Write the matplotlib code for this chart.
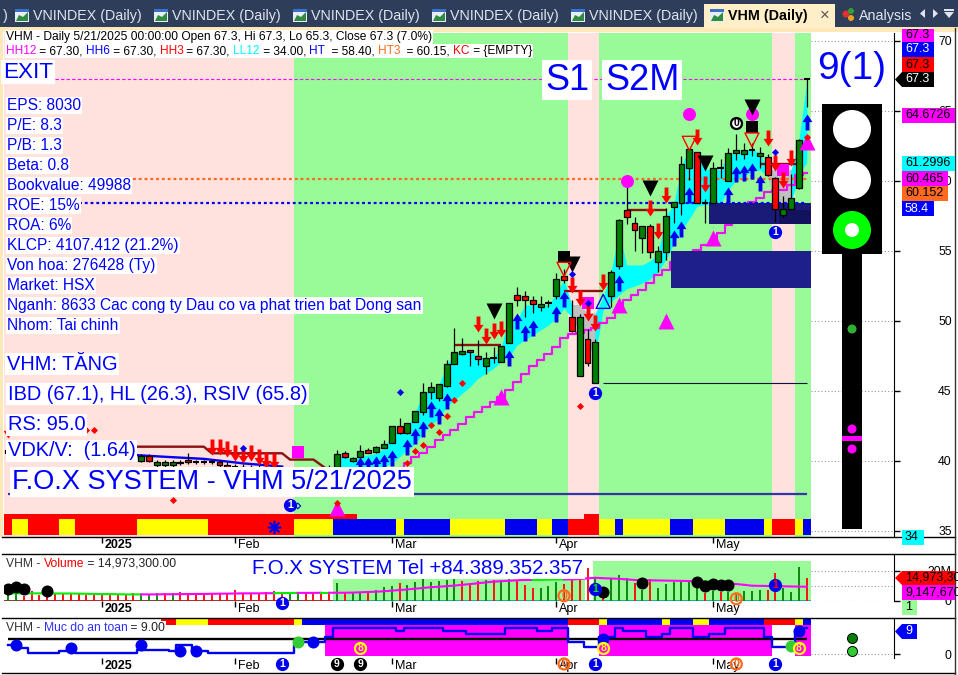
import numpy as np
import matplotlib
matplotlib.use('Agg')
import matplotlib.pyplot as plt
from matplotlib.path import Path
from matplotlib.patches import Rectangle, Polygon, Circle
from matplotlib.transforms import ScaledTranslation

plt.rcParams['font.family'] = ['Liberation Sans', 'DejaVu Sans']

# ---- OHLC per session (0 = first bar on the chart) ----
opens = [40.55, 40.9, 40.8, 40.7, 40.9, 40.7, 40.6, 40.7, 40.5, 40.6, 40.5, 40.4, 40.5, 40.4, 40.5, 40.3, 40.4,
         40.0, 40.36, 39.7, 39.7, 39.7, 39.9, 40.1, 39.95, 39.95, 39.95, 39.95, 39.7, 39.6, 39.6, 39.5, 39.5, 39.4,
         39.4, 39.3, 39.3, 39.2, 39.2, 39.3, 39.2, 39.3,
         39.55, 40.6, 40.0, 40.25, 40.8, 40.65, 40.95, 41.25, 42.5, 42.0, 42.8, 43.5, 44.95, 44.5, 45.35, 46.95,
         47.65, 47.9, 47.5, 46.75, 47.35, 47.05, 48.4, 51.85, 51.75, 51.5, 51.0, 51.25, 51.75, 53.2, 50.25, 46.05,
         48.7, 45.55, np.nan, 51.75, 53.95, 57.95, 57.0, 55.95, 56.8, 54.2, 54.95, 58.15, 58.45, 60.95, 62.05, 58.45,
         58.45, 60.95, 60.0, 62.0, 61.95, 62.2, 61.75, 61.7, 60.2, 57.55, 58.0, 59.5, 67.3]
highs = [41.0, 41.1, 41.0, 41.1, 41.1, 40.9, 40.9, 40.9, 40.8, 40.8, 40.7, 40.7, 40.7, 40.7, 40.7, 40.6, 40.6,
         40.5, 40.5, 40.1, 40.1, 40.1, 40.1, 40.55, 40.1, 40.1, 40.1, 40.1, 39.9, 39.8, 39.8, 39.7, 39.7, 39.6,
         39.6, 39.5, 39.5, 39.4, 39.5, 39.5, 39.5, 39.7,
         40.8, 40.7, 40.3, 41.15, 40.9, 41.1, 41.5, 42.5, 43.05, 42.7, 43.55, 45.6, 45.65, 45.5, 47.2, 49.5,
         48.75, 47.95, 48.65, 47.8, 48.15, 48.2, 51.3, 52.45, 52.15, 51.8, 51.8, 51.5, 53.4, 53.7, 51.5, 50.5,
         49.45, 48.7, np.nan, 53.65, 57.3, 60.45, 57.4, 56.8, 56.9, 55.35, 58.05, 58.5, 61.75, 62.3, 62.1, 58.7,
         61.35, 61.6, 62.35, 63.35, 62.7, 62.7, 62.45, 61.9, 60.25, 58.9, 60.5, 63.0, 67.3]
lows = [40.4, 40.5, 40.5, 40.5, 40.5, 40.4, 40.4, 40.3, 40.3, 40.3, 40.2, 40.2, 40.2, 40.2, 40.1, 40.1, 40.0,
        39.9, 39.9, 39.6, 39.6, 39.6, 39.7, 39.8, 39.8, 39.8, 39.8, 39.6, 39.5, 39.4, 39.4, 39.3, 39.3, 39.2,
        39.2, 39.1, 39.1, 39.0, 39.0, 39.0, 39.0, 39.1,
        39.4, 40.2, 39.9, 40.2, 40.55, 40.6, 40.9, 41.25, 41.9, 41.95, 42.8, 43.3, 44.4, 44.25, 45.3, 46.9,
        47.6, 46.8, 46.85, 46.2, 47.0, 47.05, 48.4, 51.05, 50.25, 50.55, 50.7, 51.0, 51.55, 52.7, 49.2, 46.05,
        46.8, 45.55, np.nan, 51.0, 53.7, 56.9, 55.0, 54.85, 54.5, 53.5, 54.35, 57.0, 57.55, 60.05, 58.4, 57.0,
        58.4, 60.2, 60.0, 61.5, 61.55, 61.8, 60.9, 60.35, 57.1, 57.45, 58.0, 59.4, 65.3]
closes = [40.8, 40.7, 40.7, 40.9, 40.7, 40.6, 40.7, 40.5, 40.6, 40.5, 40.4, 40.5, 40.4, 40.5, 40.3, 40.4, 40.2,
          40.36, 40.0, 39.95, 39.95, 39.9, 39.85, 39.95, 39.95, 39.95, 39.95, 39.7, 39.6, 39.6, 39.5, 39.5, 39.4,
          39.4, 39.3, 39.3, 39.2, 39.2, 39.3, 39.2, 39.3, 39.5,
          40.5, 40.25, 40.2, 40.7, 40.6, 41.0, 41.2, 42.5, 42.0, 42.7, 43.55, 44.9, 45.25, 45.5, 46.9, 47.75,
          47.85, 47.75, 47.25, 47.35, 47.35, 48.2, 51.25, 51.5, 51.5, 51.2, 51.2, 51.25, 53.0, 52.95, 49.25, 50.25,
          47.0, 48.5, np.nan, 53.5, 57.2, 57.45, 56.5, 56.75, 54.95, 55.0, 57.5, 58.5, 61.2, 62.3, 58.45, 58.45,
          60.9, 60.95, 62.0, 62.2, 62.2, 62.2, 62.0, 60.4, 58.0, 58.0, 58.75, 62.9, 67.3]

# cyan/grey channel, starts at session 42
band_start = 42
band_up = [40.3, 40.3, 40.07, 40.3, 40.43, 40.55, 40.9, 41.98, 42.1, 42.45, 43.52, 44.83, 45.07, 45.43, 46.86, 47.69,
           47.81, 47.81, 47.52, 47.33, 47.33, 48.17, 50.31, 50.07, 51.14, 51.14, 51.14, 51.14, 51.98, 52.93, 51.14,
           51.14, 50.55, 50.55, 51.7, 53.52, 56.3, 54.0, 54.0, 54.0, 54.3, 54.8, 57.5, 58.3, 61.1, 62.3, 62.0, 60.8,
           60.9, 60.8, 62.0, 61.9, 62.2, 62.3, 62.0, 60.8, 60.8, 60.8, 60.8, 62.9, 67.2]
band_lo = [39.36, 39.36, 39.36, 39.36, 39.36, 39.48, 39.6, 39.83, 40.3, 40.8, 41.26, 41.98, 42.57, 43.05, 43.88, 44.36,
           44.83, 45.31, 45.9, 46.26, 46.62, 47.1, 47.45, 48.29, 48.64, 49.0, 49.36, 49.71, 50.19, 50.9, 50.26,
           49.36, 48.29, 47.57, 50.8, 51.38, 51.86, 52.3, 52.5, 52.7, 53.0, 53.5, 54.4, 55.5, 56.5, 57.3, 58.2, 58.3,
           58.4, 58.4, 59.4, 60.07, 60.4, 60.67, 60.8, 60.3, 58.6, 58.4, 58.4, 60.5, 61.3]
grey_sessions = [72, 73, 74, 75, 97, 98, 99, 100]

# magenta stair, starts at session 50
stair_start = 50
stair = [39.48, 39.83, 40.31, 40.6, 41.02, 41.5, 41.86, 42.21, 42.64, 43.12, 43.52, 43.88, 44.24, 44.6, 45.07, 45.67,
         46.21, 46.79, 47.21, 47.64, 48.17, 48.76, 49.07, 49.17, 49.36, 49.48, 49.83, 50.19, 50.79, 51.5, 51.86, 52.2,
         52.7, 53.3, 53.64, 54.2, 54.5, 54.7, 55.07, 55.43, 55.64, 56.3, 56.86, 57.36, 57.79, 58.5, 58.79, 59.2,
         59.36, 59.36, 59.7, 60.43, 60.57]

brown_x = [16, 25, 26, 35, 36, 39, 40, 41]
brown_y = [41.02, 41.02, 40.55, 40.55, 40.1, 40.1, 39.7, 39.3]
blue_x = [16, 20, 25, 30, 35]
blue_y = [40.43, 40.3, 40.15, 39.83, 39.6]

res_start = [57, 71, 79, 96]
res_end = [63, 76, 84, 101]
res_level = [48.29, 52.17, 57.93, 61.2]

# regime runs in sessions
regime_colors = ['#ffe1dd', '#98fb98', '#ffe1dd', '#98fb98', '#ffe1dd', '#98fb98']
regime_runs = [37, 35, 4, 22, 3, 2]
strip_colors = ['r', 'y', 'r', 'y', 'r', 'y', 'r', 'y', 'b', 'y', 'b', 'y', 'b', 'y', 'b', 'r', 'y', 'b', 'y', 'b',
                'y', 'b', 'y', 'r', 'y', 'b']
strip_runs = [1, 2, 4, 2, 8, 9, 11, 5, 8, 1, 6, 7, 4, 2, 2, 4, 2, 1, 6, 3, 4, 5, 1, 3, 1, 1]
safety_strip_colors = ['r', 'y', 'r', 'y', 'b', 'r', 'y', 'b', 'y', 'b', 'y', 'b', 'r', 'y', 'b']
safety_strip_runs = [2, 4, 11, 1, 34, 4, 1, 7, 1, 3, 2, 7, 4, 1, 1]
safety_strip_start = 20

# marks on the price pane: session, price
up_arrow_x = [45, 46, 47, 48, 49, 51, 52, 53, 54, 55, 56, 64, 65, 66, 67, 70, 71, 78, 85, 86, 87, 92, 93, 94, 95, 96, 102]
up_arrow_y = [39.7, 39.7, 39.8, 39.95, 40.2, 40.98, 41.8, 42.26, 43.7, 43.2, 44.3, 47.33, 50.0, 49.17, 49.5, 50.48,
              51.55, 52.7, 55.95, 56.55, 59.0, 59.0, 60.48, 60.55, 60.71, 59.88, 64.24]
down_arrow_x = [0, 26, 27, 28, 29, 30, 31, 32, 33, 34, 60, 61, 62, 63, 72, 73, 74, 75, 76, 82, 83, 84, 88, 89, 97, 98, 99, 100]
down_arrow_y = [42.2, 41.0, 41.0, 40.83, 40.6, 40.43, 40.55, 40.26, 40.1, 39.98, 49.76, 48.93, 49.29, 49.43, 52.57, 51.62,
                50.55, 49.83, 52.8, 58.05, 56.45, 59.0, 63.17, 59.79, 63.05, 61.31, 60.07, 61.67]
black_tri_x = [62, 72, 82, 89, 95]
black_tri_y = [50.71, 54.1, 59.48, 61.31, 65.3]
black_sq_x = [71, 95]
black_sq_y = [54.6, 63.88]
red_tri_x = [71, 87, 95]
red_tri_y = [53.69, 62.69, 62.93]
mag_dot_x = [79, 87, 95]
mag_dot_y = [60.0, 64.79, 64.76]
mag_tri_x = [63, 78, 90, 102, 84, 42]
mag_tri_y = [44.6, 51.14, 55.9, 62.8, 50.0, 36.64]
mag_sq_x = [37, 74, 99]
mag_sq_y = [40.64, 51.26, 60.8]
red_dia_x = [51, 52, 53, 54, 55, 56, 57, 58, 73, 21, 42, 102, 10, 11]
red_dia_y = [39.88, 40.74, 41.14, 42.57, 42.1, 43.21, 44.36, 45.6, 43.95, 37.2, 37.0, 63.17, 42.2, 42.2]
blue_dia_x = [50, 72, 74, 98, 30]
blue_dia_y = [44.95, 53.36, 51.3, 62.1, 40.95]
one_x = [75, 98, 36]
one_y = [44.83, 56.38, 36.85]

# volume in millions
volume = [3.8, 4.9, 3.3, 6.4, 3.8, 2.7, 4.2, 4.4, 4.4, 4.2, 3.8, 4.2, 3.8, 4.2, 3.8, 3.8, 4.9, 4.2, 4.2, 4.9, 4.9, 4.9,
          5.8, 4.9, 4.4, 4.9, 4.9, 4.4, 4.4, 7.1, 4.9, 4.9, 4.9, 6.0, 6.4, 4.9, 4.9, 5.3, 4.9, 4.9, 4.4, 4.4,
          11.5, 5.0, 5.5, 6.0, 5.0, 7.0, 9.3, 9.8, 12.0, 10.4, 12.7, 14.2, 12.7, 13.3, 13.8, 14.4, 13.3, 11.0, 13.3,
          13.8, 13.8, 13.8, 14.2, 13.8, 10.4, 8.7, 8.2, 9.8, 12.7, 10.9, 14.2, 14.2, 21.6, 15.6, 1.6, 14.9, 17.1, 14.9,
          11.6, 7.1, 14.2, 8.2, 11.1, 12.7, 13.8, 12.7, 8.2, 5.3, 6.4, 6.0, 6.0, 4.9, 6.7, 6.4, 7.1, 7.1, 18.2, 8.2,
          6.0, 22.7, 15.0]
vol_dir = ('ggrrrrrrrr' 'rrrrrrrggg' 'rgrrrrrrrr' 'rrrrrrggrr' 'rrgrggrggg' 'rgggggggrr' 'rgrggrrrgg' 'grrrrgrggg'
           'rgrggggggr' 'grgggggrrg' 'ggr')
vol_ma = [4.9, 4.9, 4.9, 4.9, 4.9, 4.9, 4.8, 4.8, 4.8, 4.7, 4.6, 4.5, 4.4, 4.4, 4.3, 4.2, 4.2, 4.2, 4.2, 4.2, 4.3, 4.3,
          4.4, 4.4, 4.5, 4.5, 4.6, 4.7, 4.7, 4.8, 4.9, 4.9, 4.9, 5.0, 5.0, 5.1, 5.1, 5.2, 5.2, 5.2, 5.3, 5.3,
          5.3, 5.3, 5.4, 5.6, 5.8, 6.0, 6.3, 6.7, 7.1, 7.5, 8.0, 8.5, 9.0, 9.3, 9.7, 10.1, 10.6, 11.1, 11.6,
          12.2, 12.7, 13.0, 13.3, 13.6, 13.8, 13.8, 13.9, 14.0, 14.1, 14.2, 14.2, 14.5, 14.9, 15.3, 15.0, 14.8, 14.6,
          14.2, 13.8, 13.7, 13.6, 13.5, 13.4, 13.3, 13.2, 13.1, 13.0, 12.9, 12.7, 12.2, 11.6, 11.1, 10.6, 10.0, 9.9,
          9.8, 9.7, 9.6, 9.5, 9.4, 9.3]
ma_colors = ['#00ee00', '#ff00ff', '#00ee00', '#ff00ff', '#00ee00', '#ff00ff', '#00ee00', '#ff00ff', '#00ee00', '#ff00ff']
ma_runs = [17, 17, 3, 3, 1, 26, 4, 18, 2, 12]
black_vol_x = [0, 1, 2, 5, 76, 81, 88, 89, 90, 91, 92]
black_vol_y = [7.5, 8.9, 7.5, 6.7, 5.6, 11.6, 12.7, 9.8, 11.1, 10.2, 10.2]

# safety index
safety = [3.65, 3.65, 2.35, 0.39, 0.39, 0.39, 0.39, 1.43, 1.43, 0.39, 0.39, 0.39, 0.39, 0.39, 0.39, 0.39, 0.39, 1.7,
          1.7, 1.7, 1.7, 1.43, 3.78, 3.78, 1.43, 1.43, 0.39, 0.39, 0.39, 0.39, 0.39, 0.39, 0.39, 0.39, 0.39, 0.39, 0.39,
          3.65, 4.7, 4.7, 4.7, 6.65, 10.4, 10.4, 10.4, 10.4, 10.4, 10.4, 10.4, 10.4, 9.26, 10.1, 10.4, 10.4, 10.4, 10.4,
          9.26, 9.26, 9.26, 7.95, 7.95, 7.95, 7.95, 7.95, 10.4, 10.4, 10.4, 10.4, 9.26, 9.26, 10.4, 10.4, 4.95, 4.7,
          2.74, 2.74, 6.65, 6.65, 10.4, 9.26, 9.26, 9.26, 6.65, 6.65, 7.95, 10.4, 10.4, 10.4, 6.65, 6.65, 7.95, 7.95,
          10.4, 10.4, 10.4, 10.4, 10.4, 6.65, 2.74, 2.74, 2.74, 9.13, 10.4]
safety_level = 6.13
pink_runs = [(41, 72), (76, 98), (101, 103)]
safety_blue_x = [1, 8, 17, 22, 24, 39, 76, 101]
safety_blue_y = [3.65, 2.35, 3.65, 1.43, 1.43, 4.7, 6.0, 9.13]
safety_green_x = [37, 100]
safety_green_y = [4.7, 3.4]

month_pos = [12, 29, 49, 70, 90]
month_labels = ['2025', 'Feb', 'Mar', 'Apr', 'May']
price_ticks = [35, 40, 45, 50, 55, 60, 65, 70]

# ---- layout ----
W, H = 958, 675
L, R = 4, 894
BAR = 7.83
X0 = 8.1
fig = plt.figure(figsize=(W / 100, H / 100), dpi=100, facecolor='white')
label_shift = ScaledTranslation(0.03, 0, fig.dpi_scale_trans)


def pane(top, bottom):
    ax = fig.add_axes([L / W, 1 - bottom / H, (R - L) / W, (bottom - top) / H])
    ax.set_xlim((L - X0) / BAR, (R - X0) / BAR)
    for s in ['top', 'left', 'bottom']:
        ax.spines[s].set_visible(False)
    ax.yaxis.tick_right()
    ax.set_xticks(month_pos)
    ax.set_xticklabels(month_labels, ha='left', fontsize=9)
    ax.get_xticklabels()[0].set_fontweight('bold')
    ax.tick_params(axis='x', length=4, width=1, pad=-2.5)
    for lab in ax.get_xticklabels():
        lab.set_transform(lab.get_transform() + label_shift)
    return ax


def runs(ax, colors, lengths, start, lo, hi):
    cmap = {'r': '#ff0000', 'y': '#ffff00', 'b': '#0000ee'}
    left = start - 0.5
    for c, n in zip(colors, lengths):
        ax.bar(left, hi - lo, width=n, bottom=lo, align='edge', color=cmap.get(c, c), linewidth=0, zorder=2)
        left += n


arrow_up = Path([(0, 1), (0.62, 0.05), (0.24, 0.05), (0.24, -1), (-0.24, -1), (-0.24, 0.05), (-0.62, 0.05), (0, 1)])
arrow_dn = Path([(0, -1), (0.62, -0.05), (0.24, -0.05), (0.24, 1), (-0.24, 1), (-0.24, -0.05), (-0.62, -0.05), (0, -1)])
px = lambda n: (n * 0.72) ** 2


def badge(ax, x, y, digit, face, edge, color):
    ax.scatter([x], [y], s=px(11), c=face, edgecolors=edge, linewidths=1.6, zorder=9, clip_on=False)
    ax.text(x, y, digit, color=color, fontsize=7.5, fontweight='bold', ha='center', va='center', zorder=10, clip_on=False)


# ---- price pane ----
ax = pane(33, 537)
ax.set_ylim(34.57, 70.57)
left = -0.5
for c, n in zip(regime_colors, regime_runs):
    ax.axvspan(left, left + n, color=c, lw=0, zorder=0)
    left += n

xs = np.arange(len(closes))
bx = np.arange(band_start, band_start + len(band_up))
ax.fill_between(bx, band_lo, band_up, color='#00ffff', lw=0, zorder=1)
grey = np.isin(bx, grey_sessions)
ax.fill_between(bx, band_lo, band_up, where=grey, color='#c0c0c0', lw=0, zorder=1.1)

runs(ax, strip_colors, strip_runs, 0, 34.71, 35.86)
runs(ax, ['r'], [45], 0, 35.86, 36.21)
runs(ax, ['r'], [2], 74, 35.86, 36.21)

ax.add_patch(Rectangle((89.5, 56.93), 13, 1.47, color='#1a1a78', lw=0, zorder=2))
ax.add_patch(Rectangle((98.5, 56.93), 4, 1.0, color='#12125f', lw=0, zorder=2.1))
ax.add_patch(Rectangle((84.6, 52.36), 17.9, 2.64, color='#1f1f8c', lw=0, zorder=2))

last = xs[-1]
ax.hlines(67.3, 6, last, colors='#ff00ff', linestyles=(0, (3, 2)), lw=0.8, zorder=2)
ax.hlines(60.15, 16, last, colors='#ff6a20', linestyles=(0, (1.3, 1.3)), lw=1.6, zorder=2)
ax.hlines(58.4, 9, last, colors='#0000ee', linestyles=(0, (1.3, 1.3)), lw=1.6, zorder=2)
ax.hlines(45.57, 76, last, colors='#101040', lw=0.8, zorder=2)
ax.hlines(37.64, 0, last, colors='#3535a8', lw=1.6, zorder=2)

ax.step(np.arange(stair_start, stair_start + len(stair)), stair, where='mid', color='#ee10ee', lw=1.6, zorder=1.5)
ax.plot(brown_x, brown_y, color='#8b1010', lw=1.7, zorder=2.5)
ax.plot(blue_x, blue_y, color='#0000ee', lw=1.7, zorder=2.5)
ax.hlines(res_level, res_start, res_end, colors='#8b1010', lw=1.7, zorder=2.5)

# candles
for i in xs:
    o, h, l, c = opens[i], highs[i], lows[i], closes[i]
    if np.isnan(o):
        continue
    ax.vlines(i, l, h, colors='black', lw=0.9, zorder=3)
    if o == c:
        ax.hlines(o, i - 0.4, i + 0.4, colors='black', lw=1.5, zorder=3.1)
    else:
        ax.bar(i, abs(c - o), width=0.76, bottom=min(o, c), color='#008000' if c > o else '#ff0000',
               edgecolor='black', lw=0.9, zorder=3.1)

ax.scatter(mag_dot_x, mag_dot_y, s=px(13), c='#ff00ff', lw=0, zorder=4)
ax.scatter(mag_tri_x, mag_tri_y, s=px(16), c='#ff00ff', marker='^', lw=0, zorder=4)
ax.scatter(mag_sq_x, mag_sq_y, s=px(12), c='#ff00ff', marker='s', lw=0, zorder=4)
ax.scatter(up_arrow_x, up_arrow_y, s=px(16), c='#0000ee', marker=arrow_up, lw=0, zorder=5)
ax.scatter(down_arrow_x, down_arrow_y, s=px(16), c='#ff0000', marker=arrow_dn, lw=0, zorder=5)
ax.scatter(black_tri_x, black_tri_y, s=px(16), c='black', marker='v', lw=0, zorder=5)
ax.scatter(black_sq_x, black_sq_y, s=px(12), c='black', marker='s', lw=0, zorder=5)
ax.scatter(red_tri_x, red_tri_y, s=px(14), facecolors='none', edgecolors='#ff0000', marker='v', lw=1, zorder=5)
ax.scatter(red_dia_x, red_dia_y, s=px(5), c='#ff0000', marker='D', lw=0, zorder=5)
ax.scatter(blue_dia_x, blue_dia_y, s=px(5), c='#0000ee', marker='D', lw=0, zorder=5)
ax.scatter([76], [51.4], s=px(14), facecolors='none', edgecolors='#0000ee', marker='^', lw=1, zorder=5)
ax.scatter([37], [36.79], s=px(4), facecolors='none', edgecolors='#0000ee', marker='D', lw=0.8, zorder=5)
ax.scatter([34], [35.29], s=px(12), c='#0000ee', marker=(8, 2, 0), lw=1.2, zorder=5)
for x, y in zip(one_x, one_y):
    badge(ax, x, y, '1', '#0000ee', '#0000ee', 'white')
badge(ax, 93, 64.17, '0', 'white', 'black', 'black')

ax.hlines(price_ticks, 102.5, (R - X0) / BAR, colors='#999999', linestyles=(0, (1, 2)), lw=0.8, zorder=1)
ax.set_yticks(price_ticks)
ax.set_yticklabels([str(p) for p in price_ticks], fontsize=8.8, ha='right')
ax.tick_params(axis='y', length=4, pad=37.5, width=1, direction='out')

# ---- volume pane ----
av = pane(554, 601)
av.set_ylim(-0.2, 31.13)
av.axvspan(41.5, 73.7, ymax=(0.2 + 14.47) / 31.33, color='#98fb98', lw=0, zorder=0)
av.axvspan(74.7, 102.5, ymax=(0.2 + 26.47) / 31.33, color='#98fb98', lw=0, zorder=0)
av.hlines(0, -0.5, 41.5, colors='#8b1010', lw=1.2, zorder=2)
av.hlines(0, 41.5, 102.5, colors='#00a0a0', lw=1.2, zorder=2)
for i, v in enumerate(volume):
    av.vlines(i, 0, v, colors='#008000' if vol_dir[i] == 'g' else '#ff0000', lw=1.3, zorder=3)
start = 0
for c, n in zip(ma_colors, ma_runs):
    end = min(start + n, len(vol_ma) - 1)
    av.plot(np.arange(start, end + 1), vol_ma[start:end + 1], color=c, lw=1.5, zorder=4)
    start = end
av.scatter(black_vol_x, black_vol_y, s=px(12), c='black', lw=0, zorder=5)
badge(av, 35, -1.3, '1', '#0000ee', '#0000ee', 'white')
badge(av, 75, 7.8, '1', '#0000ee', '#0000ee', '#00ee00')
badge(av, 98, 10.4, '1', '#0000ee', '#0000ee', '#ff0000')
badge(av, 71, 3.3, '0', 'none', '#ff6a20', '#ff6a20')
badge(av, 93, 1.3, '0', 'none', '#ff6a20', '#ff6a20')
av.hlines([0, 10, 20], 102.5, (R - X0) / BAR, colors='#999999', linestyles=(0, (1, 2)), lw=0.8)
av.set_yticks([0, 20])
av.set_yticklabels(['0', '20M'], fontsize=8.8, ha='right')
av.tick_params(axis='y', length=4, pad=37.5, width=1)

# ---- safety pane ----
ap = pane(618, 658)
ap.set_ylim(-1.45, 14.2)
for a, b in pink_runs:
    ap.bar(a - 0.5, 12.15, width=b - a, bottom=-0.65, align='edge', color='#ff00ff', lw=0, zorder=0)
runs(ap, safety_strip_colors, safety_strip_runs, safety_strip_start, 11.5, 14.2)
ap.hlines(safety_level, 0, 102, colors='black', lw=1.7, zorder=2)
ap.step(np.arange(len(safety)), safety, where='mid', color='#0000ee', lw=1.7, zorder=3)
ap.scatter(safety_blue_x, safety_blue_y, s=px(12), c='#0000ee', lw=0, zorder=5)
ap.scatter(safety_green_x, safety_green_y, s=px(12), c='#32cd32', lw=0, zorder=5)
ap.scatter([107.8], [6.26], s=px(10), c='#008000', edgecolors='black', lw=0.7, zorder=5)
ap.scatter([107.8], [1.43], s=px(10), c='#32cd32', edgecolors='black', lw=0.7, zorder=5)
for x in [45, 76, 101]:
    y = 2.55
    ap.scatter([x], [y], s=px(11), c='#ff00ff', edgecolors='#ffff00', lw=1.6, zorder=9)
    ap.text(x, y, '8', color='#ffff00', fontsize=7.5, fontweight='bold', ha='center', va='center', zorder=10)
for x in [42, 45]:
    badge(ap, x, -3.78, '9', 'black', 'black', 'white')
for x in [35, 75, 98]:
    badge(ap, x, -3.78, '1', '#0000ee', '#0000ee', 'white')
for x in [71, 93]:
    badge(ap, x, -3.78, '0', 'none', '#ff6a20', '#ff6a20')
ap.hlines([0], 102.5, (R - X0) / BAR, colors='#999999', linestyles=(0, (1, 2)), lw=0.8)
ap.set_yticks([0])
ap.set_yticklabels(['0'], fontsize=8.8, ha='right')
ap.tick_params(axis='y', length=4, pad=37.5, width=1)

# ---- overlay in pixels: window chrome, text boxes, tags ----
ov = fig.add_axes([0, 0, 1, 1], facecolor='none')
ov.set_xlim(0, W)
ov.set_ylim(H, 0)
ov.axis('off')
ov.set_zorder(20)

ov.add_patch(Rectangle((0, 0), W, 28, color='#2e3d5a', lw=0))
ov.add_patch(Rectangle((0, 27), W, 5, color='#ffe8b8', lw=0))
ov.add_patch(Rectangle((0, 27), 3, 510, color='#ffe8b8', lw=0))
ov.add_patch(Rectangle((704, 4), 131, 24, color='#ffefc8', lw=0))
ov.text(3, 16, ')', color='#dfe5ee', fontsize=10.3, va='center')
for x in [15, 154, 293, 432, 571, 710]:
    ov.add_patch(Rectangle((x, 9), 14, 13, color='#e8eef8', lw=0))
    ov.add_patch(Polygon([(x + 1, 21), (x + 4, 15), (x + 8, 17), (x + 13, 12), (x + 13, 21)], color='#2e8b40', lw=0))
    ov.add_patch(Rectangle((x, 9), 14, 3, color='#3a70c8', lw=0))
    if x < 700:
        ov.text(x + 18, 16, 'VNINDEX (Daily)', color='#dfe5ee', fontsize=10.3, va='center')
ov.text(728, 16, 'VHM (Daily)', color='black', fontsize=10.3, fontweight='bold', va='center')
ov.text(825, 15, '\u00d7', color='#555555', fontsize=12, ha='center', va='center')
ov.add_patch(Circle((846, 14), 3.5, color='#e03030', lw=0))
ov.add_patch(Circle((851, 11), 3, color='#30a030', lw=0))
ov.add_patch(Circle((851, 18), 3, color='#f0a020', lw=0))
ov.text(859, 16, 'Analysis', color='#dfe5ee', fontsize=10.3, va='center')
ov.add_patch(Polygon([(925, 9), (925, 18), (920, 13.5)], color='#dfe5ee', lw=0))
ov.add_patch(Polygon([(933, 9), (933, 18), (938, 13.5)], color='#dfe5ee', lw=0))
ov.add_patch(Polygon([(944, 12), (954, 12), (949, 18)], color='#dfe5ee', lw=0))
ov.add_patch(Rectangle((944, 9), 10, 1.5, color='#dfe5ee', lw=0))

for y in [537, 554, 618, 673]:
    ov.plot([2, 955], [y, y], color='black', lw=1)
ov.plot([955, 955], [28, 675], color='#333333', lw=1)

fig.canvas.draw()
renderer = fig.canvas.get_renderer()


def width(s, size):
    t = ov.text(0, 0, '|' + s + '|', fontsize=size)
    a = t.get_window_extent(renderer).width
    t.set_text('||')
    b = t.get_window_extent(renderer).width
    t.remove()
    return a - b


def colored(x, y, pieces, size, bg=True):
    x0 = x
    for s, c in pieces:
        ov.text(x, y, s, color=c, fontsize=size, va='center', zorder=6)
        x += width(s, size)
    if bg:
        ov.add_patch(Rectangle((x0 - 1, y - 7), x - x0 + 2, 14, color='white', lw=0, zorder=5))


def label(x, y, s, size, color='#0000ff'):
    ov.text(x, y, s, color=color, fontsize=size, va='center', zorder=6,
            bbox=dict(boxstyle='square,pad=0.08', fc='white', ec='none'))


colored(6, 37, [('VHM - Daily 5/21/2025 00:00:00 Open 67.3, Hi 67.3, Lo 65.3, Close 67.3 (7.0%)', 'black')], 8.65)
colored(6, 51, [('HH12', '#ff00ff'), (' = 67.30, ', 'black'), ('HH6', '#0000ff'), (' = 67.30, ', 'black'),
                ('HH3', '#ff0000'), (' = 67.30, ', 'black'), ('LL12', '#00ffff'), (' = 34.00, ', 'black'),
                ('HT', '#0000ff'), ('  = 58.40, ', 'black'), ('HT3', '#ff6a20'), ('  = 60.15, ', 'black'),
                ('KC', '#ff0000'), (' = {EMPTY}', 'black')], 8.55)

label(3, 72, 'EXIT', 16.2)
info = ['EPS: 8030', 'P/E: 8.3', 'P/B: 1.3', 'Beta: 0.8', 'Bookvalue: 49988', 'ROE: 15%', 'ROA: 6%',
        'KLCP: 4107.412 (21.2%)', 'Von hoa: 276428 (Ty)', 'Market: HSX',
        'Nganh: 8633 Cac cong ty Dau co va phat trien bat Dong san', 'Nhom: Tai chinh']
for k, s in enumerate(info):
    label(7, 105.5 + 20 * k, s, 11.2)
label(7, 364, 'VHM: T\u0102NG', 14.4)
label(8, 394, 'IBD (67.1), HL (26.3), RSIV (65.8)', 14.4)
label(8, 425, 'RS: 95.0', 14.4)
label(8, 451, 'VDK/V:  (1.64)', 14.4)
label(12, 482, 'F.O.X SYSTEM - VHM 5/21/2025', 19.5)
label(545, 80, 'S1', 26)
label(605, 80, 'S2M', 26)
label(817, 69, '9(1)', 28)
label(252, 568, 'F.O.X SYSTEM Tel +84.389.352.357', 14.7)
colored(6, 564, [('VHM - ', '#333333'), ('Volume', '#ff0000'), (' = 14,973,300.00', '#222222')], 8.7, bg=False)
colored(6, 628, [('VHM - ', '#333333'), ('Muc do an toan', '#3030ff'), (' = 9.00', '#222222')], 8.7)

# traffic light
ov.add_patch(Rectangle((822, 104), 60, 150, color='black', lw=0))
ov.add_patch(Rectangle((842, 254), 20, 275, color='black', lw=0))
ov.add_patch(Circle((852, 129), 19, color='white', lw=0))
ov.add_patch(Circle((852, 180), 19, color='white', lw=0))
ov.add_patch(Circle((852, 230), 19, color='#00ff00', lw=0))
ov.add_patch(Circle((852, 230), 7, color='white', lw=0))
ov.add_patch(Circle((852, 329), 4.5, color='#30b030', lw=0))
ov.add_patch(Circle((852, 429), 4.5, color='#ff00ff', lw=0))
ov.add_patch(Rectangle((842, 436), 20, 5, color='#ff00ff', lw=0))
ov.add_patch(Circle((852, 449), 4.5, color='#ff00ff', lw=0))


def tag(y0, y1, x1, s, bg, fg='black', pointer=False):
    ov.add_patch(Rectangle((902, y0), x1 - 902, y1 - y0, color=bg, lw=0, zorder=7))
    if pointer:
        ov.add_patch(Polygon([(895, (y0 + y1) / 2), (902, y0), (902, y1)], color=bg, lw=0, zorder=7))
    ov.text(905, (y0 + y1) / 2, s, color=fg, fontsize=9, va='center', zorder=8)


tag(29, 42, 934, '67.3', '#ff00ff')
tag(42, 57, 934, '67.3', '#0000ff', 'white')
tag(57, 72, 934, '67.3', '#ff0000')
tag(72, 87, 934, '67.3', 'black', 'white', True)
tag(108, 123, 955, '64.6726', '#ff00ff')
tag(156, 171, 955, '61.2996', '#00ffff')
tag(171, 186, 948, '60.465', '#ff00ff')
tag(186, 201, 948, '60.152', '#ff6a20')
tag(201, 216, 934, '58.4', '#0000ff', 'white')
tag(530, 545, 924, '34', '#00ffff')
tag(571, 585, 955, '14,973,30', '#ff0000', 'black', True)
tag(585, 600, 955, '9,147,670', '#ff00ff')
tag(600, 615, 917, '1', '#98fb98')
tag(624, 639, 917, '9', '#0000ff', 'white', True)

fig.savefig('out.png', dpi=100)
